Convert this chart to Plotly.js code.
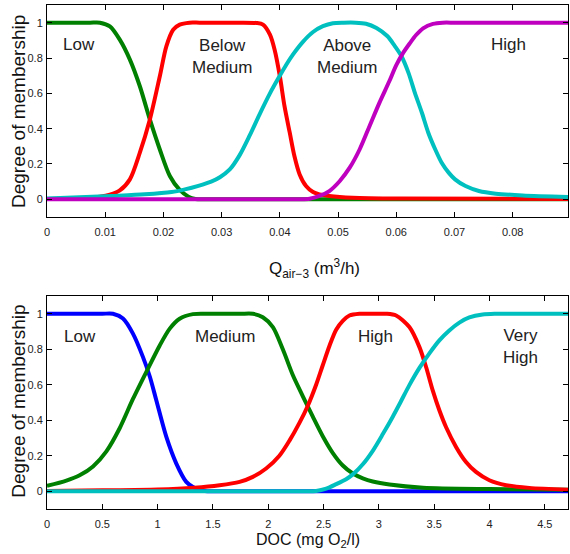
<!DOCTYPE html>
<html>
<head>
<meta charset="utf-8">
<script src="https://cdn.plot.ly/plotly-3.0.1.min.js"></script>
<style>html,body{margin:0;padding:0;background:#fff;}#chart{width:570px;height:554px;}</style>
</head>
<body>
<div id="chart"></div>
<script>
// ---------- Top panel: Q_air-3 (m3/h) ----------
const qLowX   = [0, 0.004, 0.0074, 0.0091, 0.0108, 0.0125, 0.01424, 0.01595, 0.01767, 0.01938, 0.0211, 0.0228, 0.0243, 0.0255, 0.0270, 0.032, 0.05, 0.0895];
const qLowY   = [1, 1, 1, 1, 0.979, 0.904, 0.791, 0.64, 0.452, 0.282, 0.132, 0.053, 0.015, 0.002, 0, 0, 0, 0];

const qBelowX = [0, 0.004, 0.0074, 0.0091, 0.0108, 0.0125, 0.01424, 0.01595, 0.01767, 0.01938, 0.0205, 0.02167, 0.0228, 0.0245, 0.0262, 0.030, 0.033, 0.0360, 0.0371, 0.0383, 0.0391, 0.0400, 0.0408, 0.0417, 0.0425, 0.0434, 0.0445, 0.0457, 0.0468, 0.0485, 0.0525, 0.0605, 0.0895];
const qBelowY = [0.002, 0.004, 0.008, 0.014, 0.026, 0.05, 0.113, 0.264, 0.452, 0.697, 0.866, 0.96, 0.989, 1.0, 1.0, 1.0, 1.0, 0.998, 0.989, 0.932, 0.847, 0.697, 0.527, 0.377, 0.245, 0.141, 0.075, 0.041, 0.028, 0.019, 0.009, 0.004, 0.002];

const qAboveX = [0, 0.0111, 0.0168, 0.0214, 0.0237, 0.0260, 0.0282, 0.0297, 0.0314, 0.0331, 0.0348, 0.0365, 0.0383, 0.0400, 0.0411, 0.0423, 0.0440, 0.0457, 0.0474, 0.0491, 0.0510, 0.0530, 0.0548, 0.0566, 0.0585, 0.0597, 0.0609, 0.0621, 0.0632, 0.0644, 0.0655, 0.0667, 0.0678, 0.0690, 0.0701, 0.0719, 0.0742, 0.0771, 0.0817, 0.0895];
const qAboveY = [0.004, 0.019, 0.028, 0.041, 0.056, 0.076, 0.10, 0.125, 0.169, 0.25, 0.36, 0.48, 0.60, 0.70, 0.762, 0.822, 0.893, 0.947, 0.98, 0.997, 1.0, 1.0, 0.994, 0.97, 0.923, 0.87, 0.81, 0.716, 0.603, 0.49, 0.377, 0.282, 0.207, 0.151, 0.113, 0.075, 0.047, 0.032, 0.022, 0.013];

const qHighX  = [0, 0.030, 0.040, 0.0434, 0.0451, 0.0468, 0.0485, 0.0503, 0.0520, 0.0537, 0.0554, 0.0571, 0.0588, 0.0600, 0.0611, 0.0623, 0.0634, 0.0646, 0.0663, 0.0680, 0.0700, 0.075, 0.0895];
const qHighY  = [0, 0, 0, 0, 0.003, 0.019, 0.047, 0.104, 0.179, 0.282, 0.414, 0.546, 0.668, 0.76, 0.825, 0.882, 0.93, 0.968, 0.993, 1.0, 1.0, 1.0, 1.0];

// ---------- Bottom panel: DOC (mg O2/l) ----------
const docLowX  = [0, 0.3, 0.5, 0.596, 0.687, 0.777, 0.867, 0.93, 0.988, 1.079, 1.169, 1.259, 1.319, 1.38, 1.45, 1.6, 2.0, 3.0, 4.71];
const docLowY  = [1, 1, 1, 1, 0.973, 0.888, 0.757, 0.645, 0.513, 0.306, 0.156, 0.053, 0.024, 0.006, 0, 0, 0, 0, 0];

const docMedX  = [0, 0.175, 0.295, 0.416, 0.537, 0.657, 0.777, 0.912, 1.018, 1.108, 1.199, 1.319, 1.45, 1.6, 1.75, 1.861, 1.951, 2.042, 2.132, 2.222, 2.313, 2.403, 2.493, 2.584, 2.674, 2.765, 2.855, 2.945, 3.096, 3.40, 4.0, 4.71];
const docMedY  = [0.03, 0.06, 0.09, 0.14, 0.225, 0.355, 0.52, 0.69, 0.82, 0.915, 0.972, 0.998, 1.0, 1.0, 1.0, 1.0, 0.98, 0.925, 0.80, 0.655, 0.535, 0.42, 0.31, 0.215, 0.145, 0.10, 0.073, 0.055, 0.038, 0.02, 0.012, 0.008];

const docHighX = [0, 0.5, 1.0, 1.33, 1.56, 1.741, 1.861, 1.981, 2.101, 2.192, 2.282, 2.358, 2.433, 2.493, 2.554, 2.614, 2.674, 2.734, 2.825, 2.95, 3.066, 3.156, 3.276, 3.367, 3.427, 3.487, 3.547, 3.607, 3.698, 3.788, 3.878, 3.999, 4.15, 4.36, 4.71];
const docHighY = [0.002, 0.005, 0.01, 0.02, 0.034, 0.053, 0.081, 0.128, 0.20, 0.285, 0.385, 0.482, 0.60, 0.71, 0.82, 0.91, 0.96, 0.99, 1.0, 1.0, 1.0, 0.99, 0.925, 0.812, 0.70, 0.568, 0.456, 0.362, 0.25, 0.165, 0.109, 0.062, 0.034, 0.019, 0.009];

const docVHX   = [0, 1.0, 2.0, 2.35, 2.433, 2.524, 2.614, 2.704, 2.765, 2.855, 2.945, 3.036, 3.126, 3.186, 3.276, 3.367, 3.457, 3.547, 3.637, 3.728, 3.818, 3.938, 4.05, 4.3, 4.71];
const docVHY   = [0, 0, 0, 0, 0.002, 0.015, 0.04, 0.068, 0.095, 0.152, 0.228, 0.322, 0.42, 0.49, 0.598, 0.695, 0.777, 0.85, 0.906, 0.95, 0.979, 0.996, 1.0, 1.0, 1.0];

// ---------- Ticks & labels ----------
const qTickVals   = [0, 0.01, 0.02, 0.03, 0.04, 0.05, 0.06, 0.07, 0.08];
const qTickText   = ['0', '0.01', '0.02', '0.03', '0.04', '0.05', '0.06', '0.07', '0.08'];
const docTickVals = [0, 0.5, 1, 1.5, 2, 2.5, 3, 3.5, 4, 4.5];
const docTickText = ['0', '0.5', '1', '1.5', '2', '2.5', '3', '3.5', '4', '4.5'];
const yTickVals   = [0, 0.2, 0.4, 0.6, 0.8, 1];
const yTickText   = ['0', '0.2', '0.4', '0.6', '0.8', '1'];

const qLabels   = ['Low', 'Below<br>Medium', 'Above<br>Medium', 'High'];
const qLabelX   = [0.0055, 0.0300, 0.0516, 0.0792];
const qLabelY   = [0.876, 0.806, 0.806, 0.876];
const docLabels = ['Low', 'Medium', 'High', 'Very<br>High'];
const docLabelX = [0.295, 1.605, 2.97, 4.28];
const docLabelY = [0.873, 0.873, 0.873, 0.814];

const GREEN = '#008000', RED = '#ff0000', CYAN = '#00bfbf', MAGENTA = '#bf00bf', BLUE = '#0000ff';
const LW = 4;

function tr(x, y, color, xa, ya) {
  return {x: x, y: y, type: 'scatter', mode: 'lines', xaxis: xa, yaxis: ya,
          line: {color: color, width: LW, shape: 'spline', smoothing: 0.8},
          hoverinfo: 'skip', showlegend: false};
}

const data = [
  tr(qLowX, qLowY, GREEN, 'x', 'y'),
  tr(qBelowX, qBelowY, RED, 'x', 'y'),
  tr(qAboveX, qAboveY, CYAN, 'x', 'y'),
  tr(qHighX, qHighY, MAGENTA, 'x', 'y'),
  tr(docLowX, docLowY, BLUE, 'x2', 'y2'),
  tr(docMedX, docMedY, GREEN, 'x2', 'y2'),
  tr(docHighX, docHighY, RED, 'x2', 'y2'),
  tr(docVHX, docVHY, CYAN, 'x2', 'y2')
];

const FONT = 'Arial, "Liberation Sans", Helvetica, sans-serif';
const tickFont = {family: FONT, size: 11, color: '#222'};

function xax(range, tv, tt, anchor) {
  return {range: range, tickvals: tv, ticktext: tt, anchor: anchor,
          showline: true, linecolor: '#000', linewidth: 1, mirror: 'ticks',
          ticks: 'inside', ticklen: 5, tickcolor: '#000', tickwidth: 1,
          showgrid: false, zeroline: false, tickfont: tickFont, ticklabelstandoff: 5,
          fixedrange: true};
}
function yax(domain, anchor) {
  return {range: [-0.1, 1.1], domain: domain, anchor: anchor, tickvals: yTickVals, ticktext: yTickText,
          showline: true, linecolor: '#000', linewidth: 1, mirror: 'ticks',
          ticks: 'inside', ticklen: 5, tickcolor: '#000', tickwidth: 1,
          showgrid: false, zeroline: false, tickfont: tickFont, ticklabelstandoff: 1,
          fixedrange: true};
}

const annFont = {family: FONT, size: 17, color: '#222'};
const annotations = [];
qLabels.forEach((t, i) => annotations.push({text: t, x: qLabelX[i], y: qLabelY[i], xref: 'x', yref: 'y',
  showarrow: false, font: annFont, xanchor: 'center', yanchor: 'middle', align: 'center'}));
docLabels.forEach((t, i) => annotations.push({text: t, x: docLabelX[i], y: docLabelY[i], xref: 'x2', yref: 'y2',
  showarrow: false, font: annFont, xanchor: 'center', yanchor: 'middle', align: 'center'}));

// axis titles
annotations.push({text: 'Degree of membership', textangle: -90, x: -0.0537, y: 0.7877, xref: 'paper', yref: 'paper',
  showarrow: false, font: {family: FONT, size: 19, color: '#111'}, xanchor: 'center', yanchor: 'middle'});
annotations.push({text: 'Degree of membership', textangle: -90, x: -0.0537, y: 0.2129, xref: 'paper', yref: 'paper',
  showarrow: false, font: {family: FONT, size: 19, color: '#111'}, xanchor: 'center', yanchor: 'middle'});
annotations.push({text: 'Q<sub>air\u22123</sub> (m<sup>3</sup>/h)', x: 0.5134, y: 0.478, xref: 'paper', yref: 'paper',
  showarrow: false, font: {family: FONT, size: 17, color: '#111'}, xanchor: 'center', yanchor: 'middle'});
annotations.push({text: 'DOC (mg O<sub>2</sub>/l)', x: 0.5, y: -0.062, xref: 'paper', yref: 'paper',
  showarrow: false, font: {family: FONT, size: 16, color: '#111'}, xanchor: 'center', yanchor: 'middle'});

const layout = {
  width: 570, height: 554,
  margin: {l: 47, r: 2, t: 5, b: 45},
  paper_bgcolor: '#fff', plot_bgcolor: '#fff',
  showlegend: false,
  xaxis: xax([0, 0.0895], qTickVals, qTickText, 'y'),
  yaxis: yax([0.5794, 1.0], 'x'),
  xaxis2: xax([0, 4.71], docTickVals, docTickText, 'y2'),
  yaxis2: yax([0, 0.4226], 'x2'),
  annotations: annotations
};

Plotly.newPlot('chart', data, layout, {staticPlot: true, displayModeBar: false});
</script>
</body>
</html>
